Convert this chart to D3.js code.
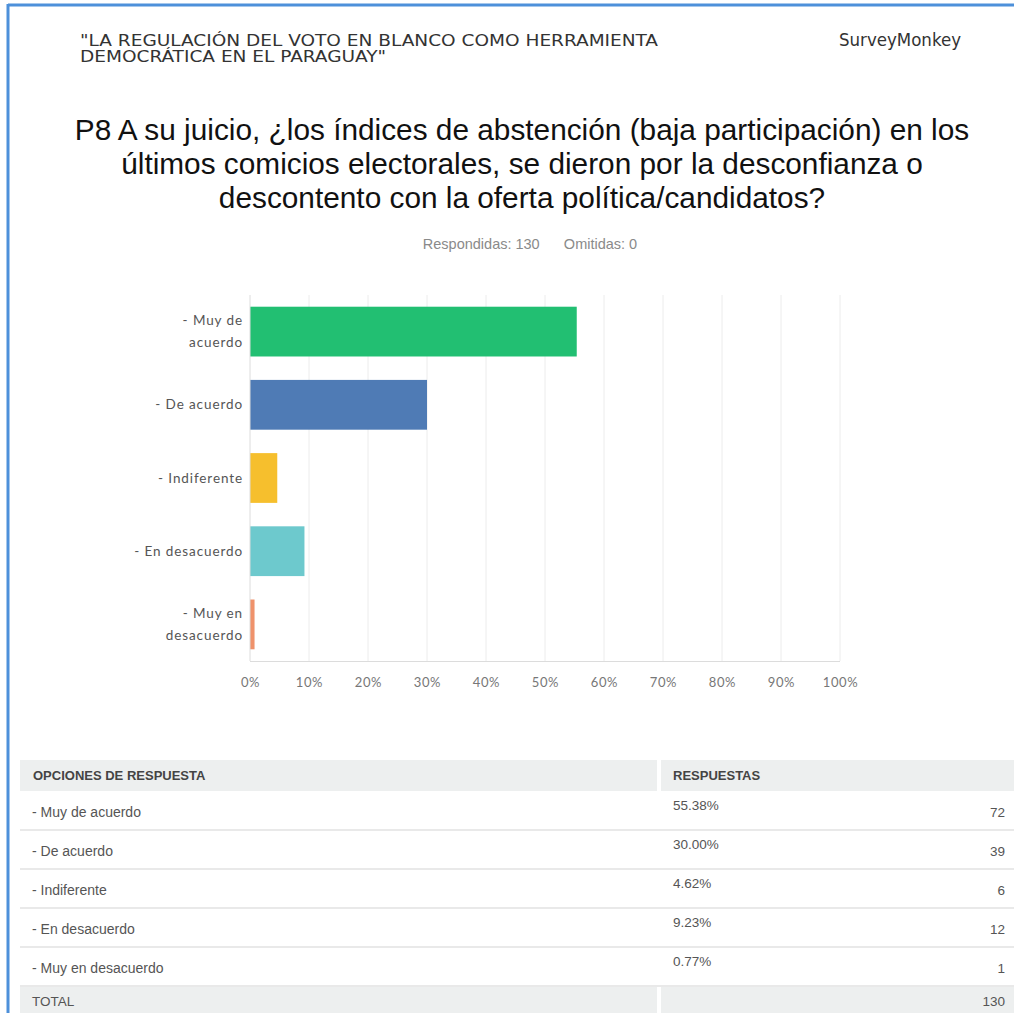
<!DOCTYPE html>
<html>
<head>
<meta charset="utf-8">
<script src="https://cdn.jsdelivr.net/npm/d3@7"></script>
<style>
  body { margin: 0; background: #fff; }
  svg { display: block; }
</style>
</head>
<body>
<div id="chart"></div>
<script>
// answer options (multi-line for the axis)
const categories = ["- Muy de acuerdo", "- De acuerdo", "- Indiferente", "- En desacuerdo", "- Muy en desacuerdo"];
const axisLabels = [["- Muy de", "acuerdo"], ["- De acuerdo"], ["- Indiferente"], ["- En desacuerdo"], ["- Muy en", "desacuerdo"]];
const percents = [55.38, 30.00, 4.62, 9.23, 0.77];
const counts = [72, 39, 6, 12, 1];
const colors = ["#22bf72", "#4f7bb5", "#f6bf2d", "#6dc9cd", "#ef926b"];
const xTicks = [0, 10, 20, 30, 40, 50, 60, 70, 80, 90, 100];
const totalAnswered = 130;
const skipped = 0;

const width = 1014, height = 1013;

const svg = d3.select("#chart").append("svg")
  .attr("width", width)
  .attr("height", height);

// page frame (blue border top/left)
svg.append("line").attr("x1", 8).attr("x2", width).attr("y1", 5).attr("y2", 5)
  .attr("stroke", "#4d90da").attr("stroke-width", 3);
svg.append("line").attr("x1", 8).attr("x2", 8).attr("y1", 4).attr("y2", height)
  .attr("stroke", "#4d90da").attr("stroke-width", 3);

// header
const head = svg.append("g").attr("font-family", "'DejaVu Sans', sans-serif")
  .attr("font-stretch", "condensed").attr("fill", "#333").attr("font-size", 15);
head.append("text").attr("x", 80).attr("y", 46)
  .attr("textLength", 578).attr("lengthAdjust", "spacingAndGlyphs")
  .text("\"LA REGULACIÓN DEL VOTO EN BLANCO COMO HERRAMIENTA");
head.append("text").attr("x", 80).attr("y", 62)
  .attr("textLength", 306).attr("lengthAdjust", "spacingAndGlyphs")
  .text("DEMOCRÁTICA EN EL PARAGUAY\"");
head.append("text").attr("x", 961).attr("y", 46).attr("text-anchor", "end")
  .attr("font-size", 18.5)
  .text("SurveyMonkey");

// question title
const titleLines = [
  "P8 A su juicio, ¿los índices de abstención (baja participación) en los",
  "últimos comicios electorales, se dieron por la desconfianza o",
  "descontento con la oferta política/candidatos?"
];
svg.append("g").selectAll("text").data(titleLines).join("text")
  .attr("x", 522)
  .attr("y", (d, i) => 140 + i * 34)
  .attr("text-anchor", "middle")
  .attr("font-family", "'Liberation Sans', Arial, sans-serif")
  .attr("font-size", 29.8)
  .attr("fill", "#111")
  .text(d => d);

svg.append("text").attr("x", 530).attr("y", 249).attr("text-anchor", "middle")
  .attr("font-family", "'Liberation Sans', Arial, sans-serif")
  .attr("font-size", 14.5).attr("fill", "#8a8a8a").attr("xml:space", "preserve")
  .text(`Respondidas: ${totalAnswered}      Omitidas: ${skipped}`);

// chart
const x = d3.scaleLinear().domain([0, 100]).range([250, 840]);
const y = d3.scaleBand().domain(categories).range([295, 661]).paddingInner(0.32).paddingOuter(0.16);

const plot = svg.append("g");

// grid
plot.selectAll(".grid").data(xTicks.slice(1)).join("line")
  .attr("x1", d => x(d)).attr("x2", d => x(d))
  .attr("y1", 295).attr("y2", 661)
  .attr("stroke", "#ececec").attr("stroke-width", 1);

// bars
plot.selectAll("rect.bar").data(categories).join("rect")
  .attr("class", "bar")
  .attr("x", x(0))
  .attr("y", d => y(d))
  .attr("width", (d, i) => x(percents[i]) - x(0))
  .attr("height", y.bandwidth())
  .attr("fill", (d, i) => colors[i]);

// axes lines
plot.append("line").attr("x1", x(0)).attr("x2", x(0)).attr("y1", 295).attr("y2", 661)
  .attr("stroke", "#dcdcdc");
plot.append("line").attr("x1", x(0)).attr("x2", x(100)).attr("y1", 661.5).attr("y2", 661.5)
  .attr("stroke", "#dcdcdc");

// x axis
const xAxis = svg.append("g")
  .attr("transform", "translate(0,661)")
  .call(d3.axisBottom(x).tickValues(xTicks).tickFormat(d => d + "%").tickSize(0).tickPadding(17));
xAxis.select(".domain").remove();
xAxis.selectAll("text")
  .attr("font-family", "Lato, 'Open Sans', sans-serif")
  .attr("font-size", 13).attr("fill", "#777").attr("letter-spacing", 0.6);

// y axis labels
const yAxis = svg.append("g");
categories.forEach((c, i) => {
  const lines = axisLabels[i];
  const cy = y(c) + y.bandwidth() / 2;
  const t = yAxis.append("text")
    .attr("x", 243)
    .attr("text-anchor", "end")
    .attr("font-family", "Lato, 'Open Sans', sans-serif")
    .attr("font-size", 13.5).attr("fill", "#555").attr("letter-spacing", 0.9);
  lines.forEach((l, j) => {
    t.append("tspan").attr("x", 243)
      .attr("y", cy + 4.5 + (j - (lines.length - 1) / 2) * 22)
      .text(l);
  });
});

// table
const tbl = svg.append("g").attr("font-family", "'Liberation Sans', Arial, sans-serif");
const rowY = d3.scaleBand().domain(d3.range(categories.length)).range([791, 986]);
const colX = [20, 659, 1014];

tbl.append("rect").attr("x", colX[0]).attr("y", 760).attr("width", colX[1] - colX[0] - 2).attr("height", 31).attr("fill", "#edefef");
tbl.append("rect").attr("x", colX[1] + 2).attr("y", 760).attr("width", colX[2] - colX[1] - 2).attr("height", 31).attr("fill", "#edefef");
tbl.append("text").attr("x", 33).attr("y", 780).attr("font-size", 13).attr("font-weight", "bold").attr("fill", "#444")
  .text("OPCIONES DE RESPUESTA");
tbl.append("text").attr("x", 673).attr("y", 780).attr("font-size", 13).attr("font-weight", "bold").attr("fill", "#444")
  .text("RESPUESTAS");

const rows = tbl.selectAll("g.row").data(categories).join("g").attr("class", "row");
rows.append("line")
  .attr("x1", colX[0]).attr("x2", colX[2])
  .attr("y1", (d, i) => rowY(i) + rowY.bandwidth()).attr("y2", (d, i) => rowY(i) + rowY.bandwidth())
  .attr("stroke", "#e2e2e2").attr("stroke-width", 1.5);
rows.append("text").attr("x", 32).attr("y", (d, i) => rowY(i) + 26)
  .attr("font-size", 14).attr("fill", "#555").text(d => d);
rows.append("text").attr("x", 673).attr("y", (d, i) => rowY(i) + 19)
  .attr("font-size", 13.5).attr("fill", "#555").text((d, i) => percents[i].toFixed(2) + "%");
rows.append("text").attr("x", 1005).attr("y", (d, i) => rowY(i) + 26).attr("text-anchor", "end")
  .attr("font-size", 13.5).attr("fill", "#555").text((d, i) => counts[i]);

tbl.append("rect").attr("x", colX[0]).attr("y", 987).attr("width", colX[1] - colX[0] - 2).attr("height", 26).attr("fill", "#edefef");
tbl.append("rect").attr("x", colX[1] + 2).attr("y", 987).attr("width", colX[2] - colX[1] - 2).attr("height", 26).attr("fill", "#edefef");
tbl.append("text").attr("x", 32).attr("y", 1006).attr("font-size", 13.5).attr("fill", "#555").text("TOTAL");
tbl.append("text").attr("x", 1005).attr("y", 1006).attr("text-anchor", "end").attr("font-size", 13.5).attr("fill", "#555")
  .text(d3.sum(counts));
</script>
</body>
</html>
